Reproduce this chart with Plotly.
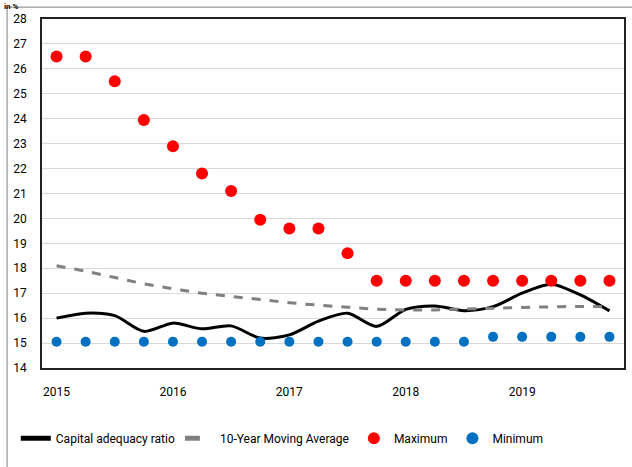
import plotly.graph_objects as go

# === Data ===
quarters = [f"{y}Q{q}" for y in range(2015, 2020) for q in range(1, 5)]
years = ["2015", "2016", "2017", "2018", "2019"]

car = [16.0, 16.2, 16.1, 15.47, 15.8, 15.57, 15.69, 15.2, 15.33, 15.88,
       16.2, 15.67, 16.35, 16.49, 16.3, 16.46, 17.0, 17.36, 16.93, 16.29]
moving_avg = [18.1, 17.88, 17.63, 17.38, 17.18, 17.0, 16.87, 16.75, 16.62, 16.52,
              16.44, 16.36, 16.33, 16.33, 16.36, 16.4, 16.43, 16.45, 16.47, 16.45]
maximum = [26.5, 26.5, 25.5, 23.95, 22.9, 21.8, 21.1, 19.95, 19.6, 19.6,
           18.6, 17.5, 17.5, 17.5, 17.5, 17.5, 17.5, 17.5, 17.5, 17.5]
minimum = [15.05] * 15 + [15.25] * 5

font = "Roboto"

fig = go.Figure()

fig.add_trace(go.Scatter(
    x=quarters, y=car, mode="lines", name="Capital adequacy ratio",
    line=dict(color="black", width=3, shape="spline", smoothing=0.8)
))
fig.add_trace(go.Scatter(
    x=quarters, y=moving_avg, mode="lines", name="10-Year Moving Average",
    line=dict(color="#808080", width=3, dash="dash", shape="spline")
))
fig.add_trace(go.Scatter(
    x=quarters, y=maximum, mode="markers", name="Maximum",
    marker=dict(color="#FF0000", size=12)
))
fig.add_trace(go.Scatter(
    x=quarters, y=minimum, mode="markers", name="Minimum",
    marker=dict(color="#0070C0", size=10)
))

fig.update_layout(
    width=632, height=467,
    margin=dict(l=42, r=6, t=19, b=99),
    plot_bgcolor="white", paper_bgcolor="white",
    font=dict(family=font, size=12, color="black"),
    showlegend=True,
    legend=dict(orientation="h", x=-0.045, xanchor="left", y=-0.16, yanchor="top",
                font=dict(size=12), itemwidth=30, tracegroupgap=0,
                itemsizing="constant"),
    xaxis=dict(type="category", tickmode="array",
               tickvals=[q for q in quarters if q.endswith("Q1")], ticktext=years,
               range=[-0.5, 19.5], showgrid=False, ticks="",
               showline=True, linecolor="#222", linewidth=1.5, mirror=True,
               ticklabelstandoff=12),
    yaxis=dict(range=[14, 28], dtick=1, showgrid=True, gridcolor="#D9D9D9",
               gridwidth=1, ticks="", zeroline=False,
               showline=True, linecolor="#222", linewidth=1.5, mirror=True,
               ticklabelstandoff=11),
    shapes=[dict(type="rect", xref="paper", yref="paper",
                 x0=-0.06, x1=1.02, y0=-0.5, y1=1.034,
                 line=dict(color="#7F7F7F", width=1))],
    annotations=[dict(text="<b>in %</b>", xref="paper", yref="paper",
                      x=-0.068, y=1.054, xanchor="left", yanchor="top",
                      showarrow=False, font=dict(size=8))],
)

fig.write_html("out.html", config={"displayModeBar": False},
               post_script="document.body.style.margin='0px';")
